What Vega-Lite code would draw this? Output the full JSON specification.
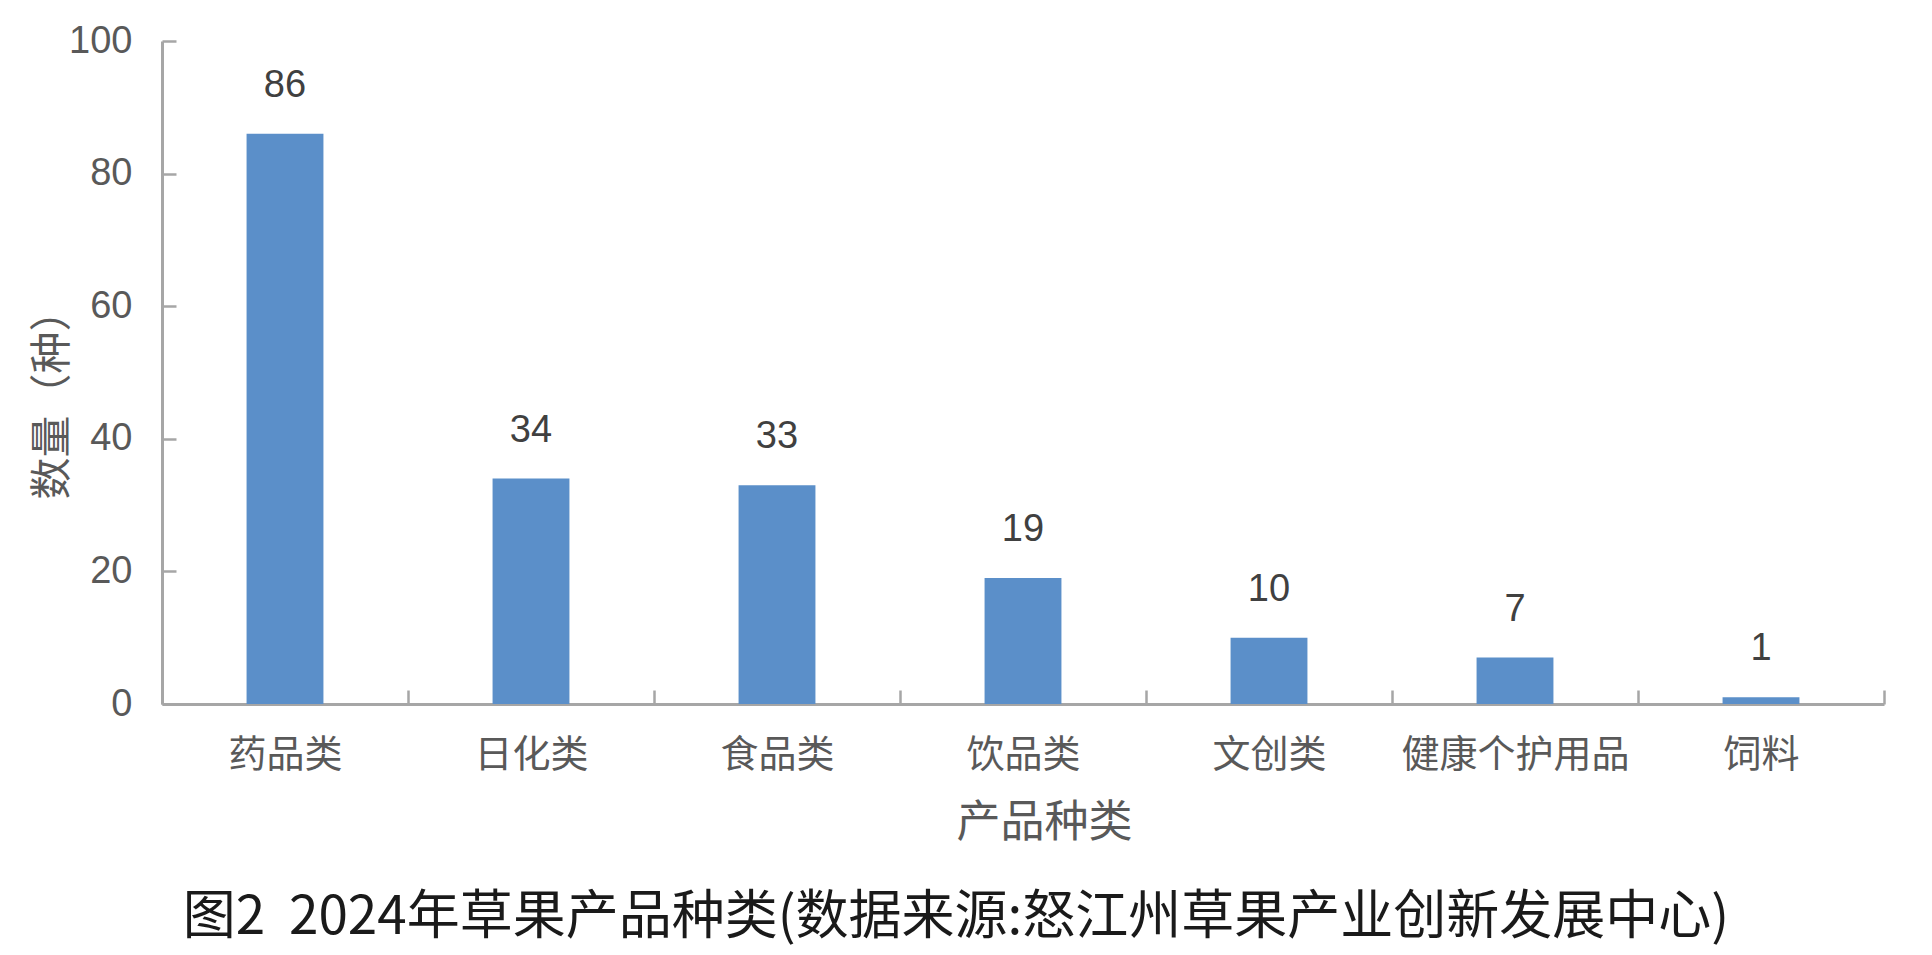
{
  "$schema": "https://vega.github.io/schema/vega-lite/v6.json",
  "width": 1722,
  "height": 663,
  "autosize": {"type": "none"},
  "padding": {"left": 162, "top": 41, "right": 48, "bottom": 251},
  "background": "white",
  "title": {
    "text": "图2\u00a0\u00a02024年草果产品种类(数据来源:怒江州草果产业创新发展中心)",
    "orient": "bottom",
    "anchor": "middle",
    "frame": "group",
    "font": "Noto Sans CJK SC",
    "fontSize": 53,
    "fontWeight": "normal",
    "color": "#1a1a1a",
    "offset": 47,
    "dx": -67
  },
  "config": {"view": {"stroke": null}},
  "data": {
    "values": [
      {"category": "药品类", "count": 86},
      {"category": "日化类", "count": 34},
      {"category": "食品类", "count": 33},
      {"category": "饮品类", "count": 19},
      {"category": "文创类", "count": 10},
      {"category": "健康个护用品", "count": 7},
      {"category": "饲料", "count": 1}
    ]
  },
  "encoding": {
    "x": {
      "field": "category",
      "type": "nominal",
      "sort": null,
      "scale": {"paddingInner": 0, "paddingOuter": 0},
      "axis": {
        "title": "产品种类",
        "titleFont": "Noto Sans CJK SC",
        "titleFontSize": 44,
        "titleFontWeight": "normal",
        "titleColor": "#595959",
        "titleX": 882,
        "titleY": 119,
        "titleBaseline": "middle",
        "titleAnchor": null,
        "labelAngle": 0,
        "labelLimit": 0,
        "labelFont": "Noto Sans CJK SC",
        "labelFontSize": 38,
        "labelColor": "#595959",
        "labelBaseline": "middle",
        "labelPadding": 65,
        "tickBand": "extent",
        "tickSize": -14,
        "tickWidth": 2.5,
        "tickColor": "#A6A6A6",
        "domainColor": "#A6A6A6",
        "domainWidth": 3,
        "grid": false
      }
    },
    "y": {
      "field": "count",
      "type": "quantitative",
      "scale": {"domain": [0, 100], "nice": false},
      "axis": {
        "title": "数量（种）",
        "titleFont": "Noto Sans CJK SC",
        "titleFontSize": 42,
        "titleFontWeight": "normal",
        "titleColor": "#595959",
        "titleX": -110,
        "titleY": 353,
        "titleAngle": 270,
        "titleBaseline": "middle",
        "titleAlign": "center",
        "values": [0, 20, 40, 60, 80, 100],
        "labelFont": "Liberation Sans",
        "labelFontSize": 38,
        "labelColor": "#595959",
        "labelPadding": 44,
        "tickSize": -14,
        "tickWidth": 2.5,
        "tickColor": "#A6A6A6",
        "domainColor": "#A6A6A6",
        "domainWidth": 3,
        "grid": false
      }
    }
  },
  "layer": [
    {"mark": {"type": "bar", "width": {"band": 0.3125}, "color": "#5B8FC9"}},
    {
      "mark": {
        "type": "text",
        "baseline": "alphabetic",
        "dy": -37,
        "font": "Liberation Sans",
        "fontSize": 38,
        "color": "#404040"
      },
      "encoding": {"text": {"field": "count", "type": "quantitative"}}
    }
  ]
}
